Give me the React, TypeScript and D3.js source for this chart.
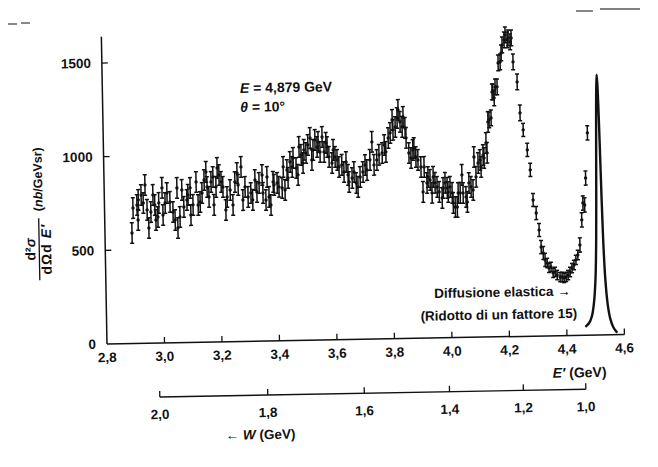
import React from "react";
import * as d3 from "d3";

// ---- data ----
const ePrime: number[] = [
  2.894, 2.899, 2.913, 2.916, 2.918, 2.928, 2.935, 2.942, 2.948, 2.953,
  2.961, 2.969, 2.975, 2.978, 2.985, 2.989, 3.001, 3.003, 3.011, 3.018,
  3.028, 3.038, 3.045, 3.053, 3.054, 3.062, 3.070, 3.076, 3.087, 3.091,
  3.099, 3.100, 3.108, 3.120, 3.126, 3.133, 3.140, 3.148, 3.155, 3.158,
  3.164, 3.172, 3.179, 3.181, 3.189, 3.194, 3.200, 3.207, 3.213, 3.222,
  3.227, 3.238, 3.247, 3.255, 3.263, 3.266, 3.277, 3.282, 3.290, 3.300,
  3.310, 3.316, 3.325, 3.331, 3.339, 3.350, 3.352, 3.362, 3.367, 3.373,
  3.379, 3.388, 3.391, 3.402, 3.408, 3.419, 3.424, 3.429, 3.437, 3.440,
  3.448, 3.455, 3.459, 3.469, 3.475, 3.480, 3.487, 3.493, 3.497, 3.504,
  3.511, 3.519, 3.524, 3.529, 3.536, 3.543, 3.547, 3.553, 3.561, 3.567,
  3.574, 3.578, 3.584, 3.594, 3.599, 3.605, 3.612, 3.618, 3.628, 3.635,
  3.643, 3.649, 3.652, 3.663, 3.670, 3.677, 3.683, 3.691, 3.701, 3.709,
  3.715, 3.726, 3.734, 3.740, 3.750, 3.758,
  3.769, 3.777, 3.782, 3.791, 3.798, 3.806, 3.808, 3.816, 3.823, 3.827,
  3.833, 3.840, 3.844, 3.850, 3.853, 3.862, 3.869, 3.876, 3.880, 3.886,
  3.893, 3.903, 3.909, 3.914, 3.923, 3.927, 3.934, 3.940, 3.945, 3.951,
  3.958, 3.965, 3.975, 3.979, 3.986, 3.993, 3.996, 4.003, 4.010, 4.013,
  4.020, 4.027, 4.031, 4.038, 4.045, 4.048, 4.058, 4.062, 4.069, 4.076,
  4.083, 4.088, 4.094, 4.102, 4.109, 4.112, 4.120, 4.123, 4.131, 4.134,
  4.139, 4.143, 4.150, 4.155, 4.158, 4.162, 4.166, 4.173, 4.178, 4.185,
  4.189, 4.193, 4.200, 4.204, 4.211, 4.214, 4.221, 4.225, 4.230, 4.243,
  4.251, 4.261, 4.274, 4.283, 4.291, 4.301, 4.310, 4.316, 4.323, 4.329,
  4.336, 4.342, 4.349, 4.356, 4.363, 4.370, 4.380, 4.387, 4.394, 4.401,
  4.408, 4.415, 4.422, 4.429, 4.436, 4.443, 4.451, 4.459, 4.464, 4.470,
  4.475, 4.484,
];

const crossSection: number[] = [
  590, 723, 739, 659, 766, 792, 749, 845, 712, 615,
  700, 791, 737, 657, 673, 748, 828, 683, 747, 800,
  752, 698, 655, 826, 612, 671, 815, 724, 761, 788,
  825, 680, 734, 856, 733, 749, 797, 866, 909, 828,
  775, 855, 881, 732, 828, 929, 891, 854, 827, 704,
  773, 810, 730, 852, 900, 836, 932, 755, 825, 771,
  792, 755, 861, 797, 845, 887, 791, 753, 876, 769,
  726, 849, 833, 843, 822, 816, 928, 805, 911, 869,
  954, 927, 975, 921, 884, 1033, 990, 947, 1017, 1000,
  1043, 1080, 962, 1016, 1069, 1031, 1058, 1004, 1084, 1004,
  1052, 1030, 977, 944, 1014, 976, 960, 922, 933, 895,
  948, 879, 841, 862, 894, 835, 814, 867, 893, 930,
  903, 957, 1053, 930, 956, 983,
  993, 1035, 998, 1072, 1099, 1168, 1115, 1130, 1178, 1221,
  1157, 1130, 1183, 1124, 1071, 990, 963, 1006, 1016, 968,
  952, 914, 781, 914, 828, 860, 844, 775, 860, 828,
  806, 779, 747, 800, 827, 800, 778, 805, 773, 719,
  697, 697, 772, 772, 868, 771, 750, 723, 824, 803,
  786, 962, 856, 930, 946, 908, 972, 956, 1036, 983,
  1148, 1159, 1169, 1308, 1308, 1276, 1334, 1334, 1462, 1467,
  1515, 1558, 1584, 1611, 1584, 1595, 1573, 1594, 1466, 1359,
  1193, 1102, 995, 888, 727, 657, 566, 475, 443, 406,
  389, 363, 368, 336, 341, 324, 313, 313, 308, 313,
  323, 339, 360, 376, 403, 429, 482, 616, 706, 695,
  839, 1080,
];

// error-bar half size (nb/GeVsr) by E' region
const errUpTo: number[] = [4.14, 4.26, 4.33, 4.45, 9];
const errHalf: number[] = [55, 42, 35, 25, 38];

// elastic peak (reduced by a factor 15)
const elasticE: number[] = [4.465, 4.478, 4.488, 4.496, 4.503, 4.508, 4.512, 4.515, 4.518, 4.52, 4.522, 4.525, 4.528, 4.532, 4.537, 4.544, 4.552, 4.562, 4.575];
const elasticV: number[] = [45, 65, 100, 170, 300, 520, 850, 1130, 1330, 1390, 1330, 1130, 850, 520, 300, 160, 85, 40, 10];

const yTicks: number[] = [0, 500, 1000, 1500];
const xTicks: number[] = [2.8, 3.0, 3.2, 3.4, 3.6, 3.8, 4.0, 4.2, 4.4, 4.6];
const wTicks: number[] = [2.0, 1.8, 1.6, 1.4, 1.2, 1.0];

// kinematics for the secondary W axis
const beamE = 4.879;
const thetaDeg = 10;
const protonM = 0.938;

const FONT = "'Liberation Sans', Arial, Helvetica, sans-serif";

function eFromW(w: number): number {
  const s2 = Math.sin(((thetaDeg / 2) * Math.PI) / 180) ** 2;
  return (protonM * protonM + 2 * protonM * beamE - w * w) / (2 * protonM + 4 * beamE * s2);
}
function errFor(e: number): number {
  for (let i = 0; i < errUpTo.length; i++) if (e < errUpTo[i]) return errHalf[i];
  return errHalf[errHalf.length - 1];
}
const fmt = (v: number) => d3.format(".1f")(v).replace(".", ",");

export default function App() {
  const x = d3.scaleLinear().domain([2.8, 4.6]).range([107, 624.5]);
  const y = d3.scaleLinear().domain([0, 1500]).range([344, 63]);
  const n = Math.min(ePrime.length, crossSection.length);
  const pts = d3.range(n).map((i) => ({ e: ePrime[i], v: crossSection[i], err: errFor(ePrime[i]) }));
  const elastic = elasticE.map((e, i) => [e, elasticV[i]] as [number, number]);
  const line = d3
    .line<[number, number]>()
    .x((d) => x(d[0]))
    .y((d) => y(d[1]))
    .curve(d3.curveCatmullRom);
  const wY = 398;
  const wStart = x(eFromW(2.0));
  const wEnd = x(eFromW(1.0));
  const ink = "#111";

  return (
    <svg
      width={658}
      height={467}
      style={{ position: "absolute", left: 0, top: 0, background: "#fff" }}
      fontFamily={FONT}
      fontWeight="bold"
    >
      <rect x={0} y={0} width={658} height={467} fill="#fff" />
      {/* scan marks */}
      <g stroke="#555" strokeWidth={1.4}>
        <line x1={8} y1={24} x2={17} y2={24} />
        <line x1={21} y1={23} x2={30} y2={23} />
        <line x1={576} y1={11} x2={593} y2={11} />
        <line x1={600} y1={9} x2={640} y2={9} />
      </g>
      <g transform="rotate(-1.05 107 344)">
        {/* y axis */}
        <line x1={x(2.8)} y1={y(0)} x2={x(2.8)} y2={y(1640)} stroke={ink} strokeWidth={1.5} />
        {yTicks.map((t) => (
          <g key={"y" + t}>
            {t > 0 && <line x1={x(2.8)} x2={x(2.8) + 6} y1={y(t)} y2={y(t)} stroke={ink} strokeWidth={1.3} />}
            <text x={96} y={y(t) + 4.7} textAnchor="end" fontSize={13.5} fill={ink}>
              {t}
            </text>
          </g>
        ))}
        {/* x axis */}
        <line x1={x(2.8)} y1={y(0)} x2={x(4.6)} y2={y(0)} stroke={ink} strokeWidth={1.5} />
        {xTicks.map((t) => (
          <g key={"x" + t}>
            {t > 2.85 && <line x1={x(t)} x2={x(t)} y1={y(0)} y2={y(0) - 6} stroke={ink} strokeWidth={1.3} />}
            <text x={x(t)} y={362} textAnchor="middle" fontSize={13.5} fill={ink}>
              {fmt(t)}
            </text>
          </g>
        ))}
        <text x={552} y={386} fontSize={14} fill={ink}>
          <tspan fontStyle="italic">E′</tspan> (GeV)
        </text>

        {/* W axis */}
        <line x1={wStart} x2={wEnd} y1={wY} y2={wY} stroke={ink} strokeWidth={1.4} />
        {wTicks.map((w) => (
          <g key={"w" + w}>
            <line x1={x(eFromW(w))} x2={x(eFromW(w))} y1={wY} y2={wY - 6} stroke={ink} strokeWidth={1.3} />
            <text x={x(eFromW(w))} y={420} textAnchor="middle" fontSize={13.5} fill={ink}>
              {fmt(w)}
            </text>
          </g>
        ))}
        <text x={224} y={442} fontSize={13.5} fill={ink}>
          ← <tspan fontStyle="italic">W</tspan> (GeV)
        </text>

        {/* y title */}
        <g transform="translate(41 248) rotate(-90)" fill={ink}>
          <text x={0} y={-4} textAnchor="middle" fontSize={14}>
            d²<tspan fontStyle="italic">σ</tspan>
          </text>
          <line x1={-31} x2={31} y1={0} y2={0} stroke={ink} strokeWidth={1.3} />
          <text x={0} y={12} textAnchor="middle" fontSize={14} letterSpacing={1}>
            dΩd <tspan fontStyle="italic">E′</tspan>
          </text>
          <text x={70} y={4} textAnchor="middle" fontSize={12.5}>
            (<tspan fontStyle="italic">nb</tspan>/GeVsr)
          </text>
        </g>

        {/* annotations */}
        <text x={244.5} y={95.5} fontSize={14} fill={ink}>
          <tspan fontStyle="italic">E</tspan> = 4,879 GeV
        </text>
        <text x={244.5} y={114.5} fontSize={14} fill={ink}>
          <tspan fontStyle="italic">θ</tspan> = 10°
        </text>
        <text x={435} y={304} fontSize={13.5} fill={ink}>
          Diffusione elastica →
        </text>
        <text x={421} y={326.5} fontSize={13.5} fill={ink}>
          (Ridotto di un fattore 15)
        </text>

        {/* elastic peak */}
        <path d={line(elastic) || ""} fill="none" stroke={ink} strokeWidth={2.4} />

        {/* data points */}
        <g stroke={ink} strokeWidth={1.5}>
          {pts.map((p, i) => {
            const cx = x(p.e);
            const y1 = y(p.v + p.err);
            const y2 = y(p.v - p.err);
            return (
              <g key={i}>
                <line x1={cx} x2={cx} y1={y1} y2={y2} />
                <line x1={cx - 2} x2={cx + 2} y1={y1} y2={y1} />
                <line x1={cx - 2} x2={cx + 2} y1={y2} y2={y2} />
                <circle cx={cx} cy={y(p.v)} r={1.7} fill={ink} stroke="none" />
              </g>
            );
          })}
        </g>
      </g>
    </svg>
  );
}
